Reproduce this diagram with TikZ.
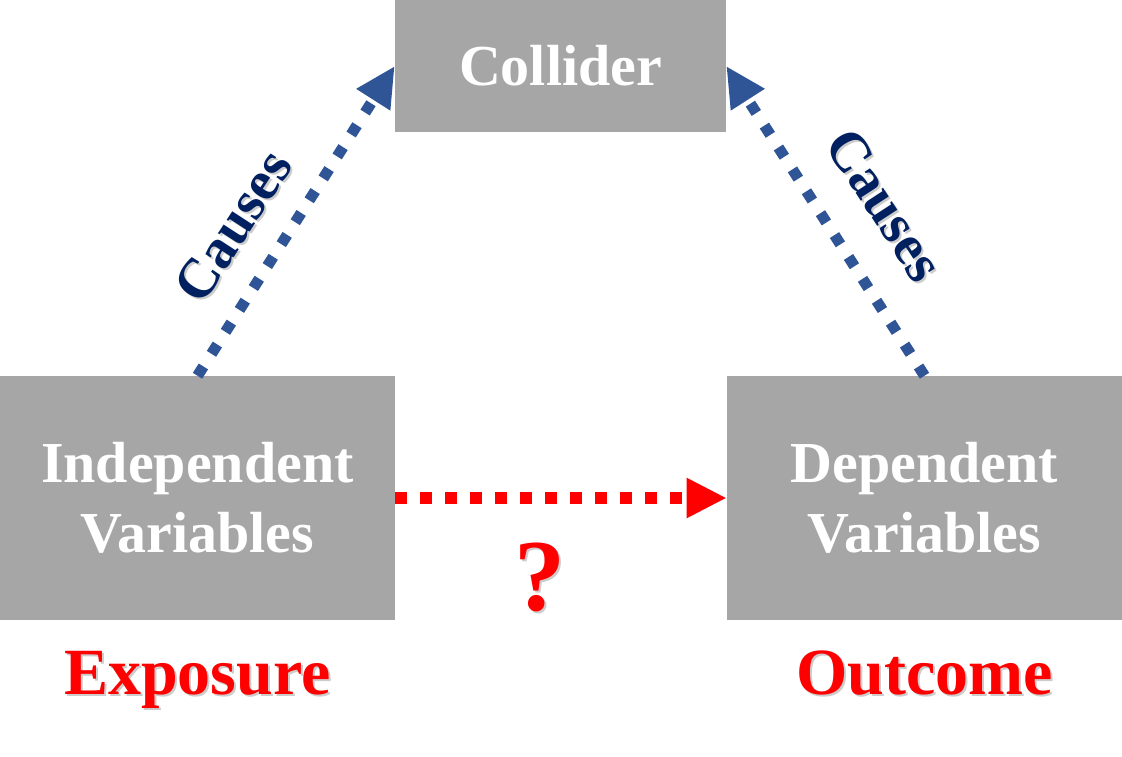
\documentclass[tikz,border=0pt]{standalone}
\usepackage{fontspec}
\setmainfont{Liberation Serif}
\usepackage{tikz}
\usetikzlibrary{arrows.meta,positioning,calc}
\definecolor{boxgray}{HTML}{A6A6A6}
\definecolor{arrblue}{HTML}{2F5597}
\definecolor{navytext}{HTML}{002060}
\definecolor{hotred}{HTML}{FF0000}

\begin{document}
\begin{tikzpicture}[x=0.75pt,y=-0.75pt,
box/.style={fill=boxgray,inner sep=0pt,text=white,align=center,
  font=\fontsize{43.5}{52.5}\selectfont\bfseries},
bluearr/.style={arrblue,line width=8.25pt,dash pattern=on 8.25pt off 11.25pt,
  -{Triangle[length=30pt,width=28pt]}},
redarr/.style={hotred,line width=9pt,dash pattern=on 9pt off 9.75pt,
  -{Triangle[length=30pt,width=28pt]}},
causes/.style={text=navytext,font=\fontsize{42}{45}\selectfont\bfseries},
shade/.style={text=black,opacity=0.2}]
\useasboundingbox (0,0) rectangle (1122,757);

\node (coll) at (560.5,66) [box,minimum width=248.25pt,minimum height=99pt] {Collider};
\node (indep) at (197.5,498) [box,minimum width=296.25pt,minimum height=183pt] {Independent\\Variables};
\node (dep) at (924.5,498) [box,minimum width=296.25pt,minimum height=183pt] {Dependent\\Variables};

\draw[bluearr] (indep.north) -- (coll.west);
\draw[bluearr] (dep.north) -- (coll.east);
\draw[redarr] (indep.east) -- (dep.west);

% labels, with a light shadow
\node (lcauseshade) at (235,228) [causes,shade,rotate=57] {Causes};
\node (lcause) at (233,226) [causes,rotate=57] {Causes};
\node (rcauseshade) at (887,207) [causes,shade,rotate=-57] {Causes};
\node (rcause) at (885,205) [causes,rotate=-57] {Causes};

\node (askshade) at (542,612) [anchor=base,shade,font=\fontsize{76.5}{80}\selectfont\bfseries] {?};
\node (ask) at (540,610) [anchor=base,text=hotred,font=\fontsize{76.5}{80}\selectfont\bfseries] {?};

\node (expshade) at (199.5,696) [anchor=base,shade,font=\fontsize{49.5}{55}\selectfont\bfseries] {Exposure};
\node (exp) at (197.5,694) [anchor=base,text=hotred,font=\fontsize{49.5}{55}\selectfont\bfseries] {Exposure};
\node (outshade) at (926.5,696) [anchor=base,shade,font=\fontsize{49.5}{55}\selectfont\bfseries] {Outcome};
\node (out) at (924.5,694) [anchor=base,text=hotred,font=\fontsize{49.5}{55}\selectfont\bfseries] {Outcome};

\end{tikzpicture}
\end{document}
